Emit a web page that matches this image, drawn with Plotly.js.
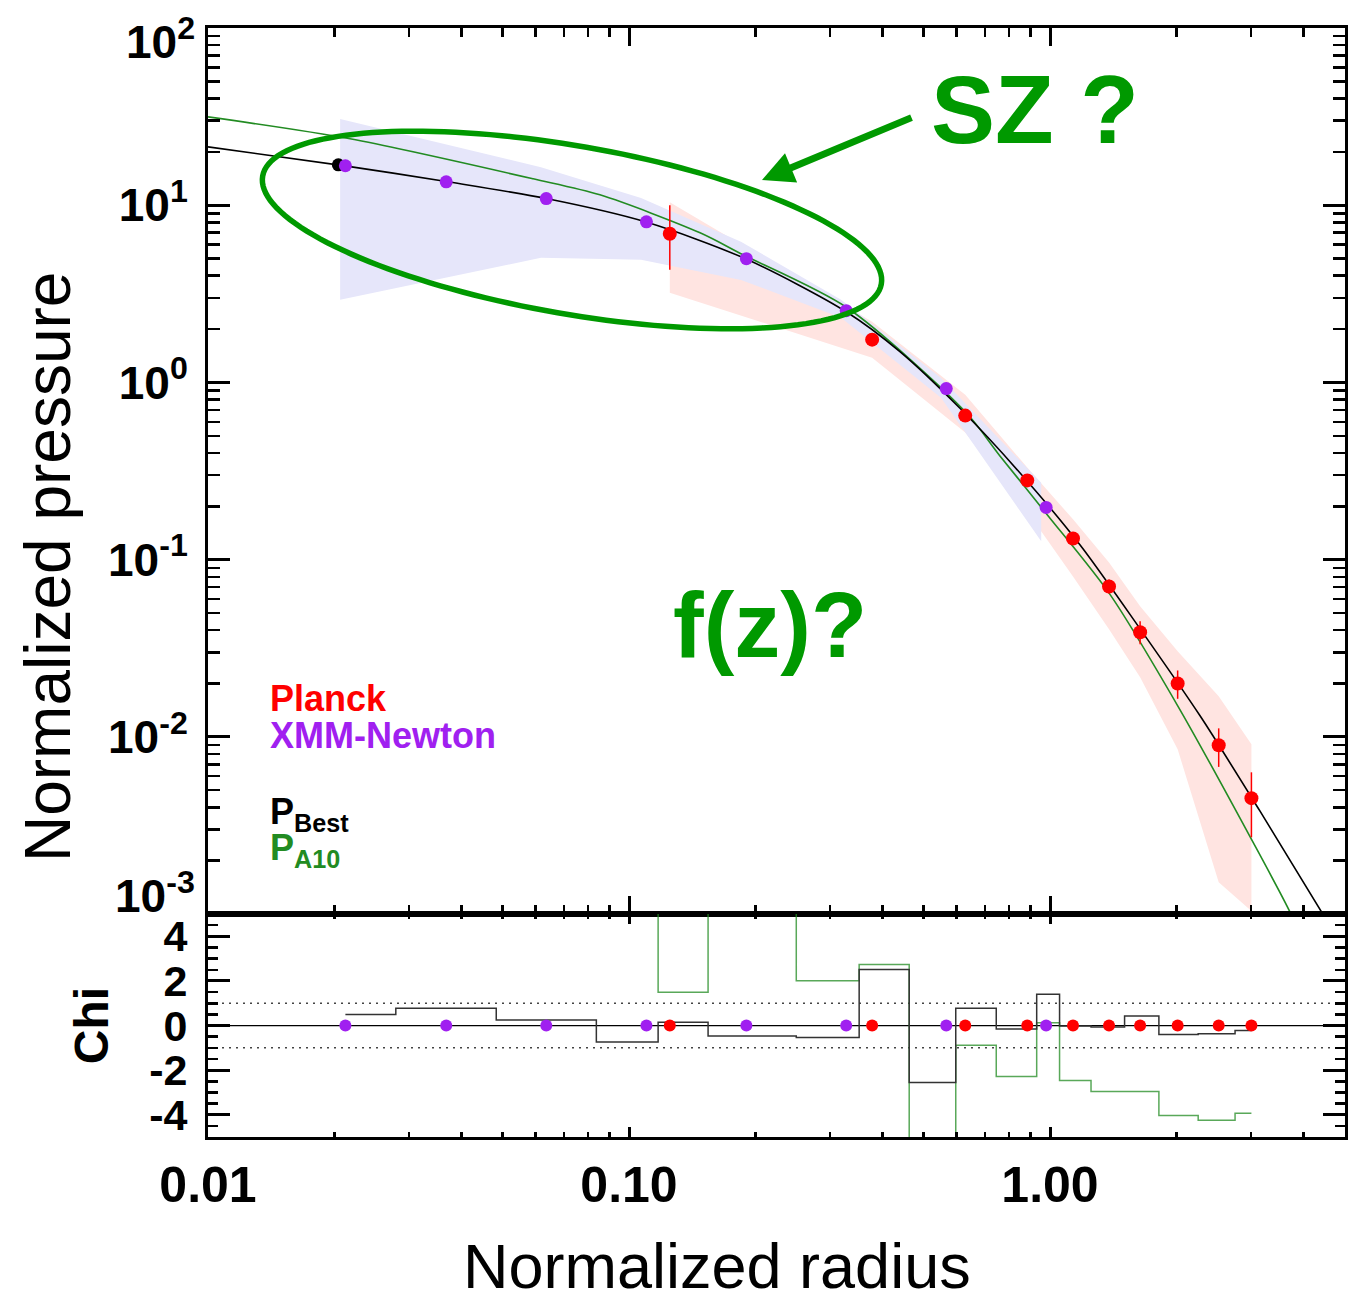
<!DOCTYPE html>
<html><head><meta charset="utf-8">
<script src="https://cdn.plot.ly/plotly-3.0.1.min.js"></script>
<style>html,body{margin:0;padding:0;background:#fff}</style>
</head><body><div id="chart" style="width:1367px;height:1296px"></div>
<script>
// ---------- DATA ----------
const xmmR = [0.0212, 0.0368, 0.0636, 0.110, 0.190, 0.328, 0.567, 0.979];
const xmmP = [16.7, 13.55, 10.9, 8.06, 4.99, 2.54, 0.923, 0.197];
const planckR = [0.125, 0.378, 0.629, 0.883, 1.134, 1.381, 1.637, 2.010, 2.516, 3.009];
const planckP = [6.90, 1.743, 0.650, 0.280, 0.1317, 0.0706, 0.0389, 0.0200, 0.00897, 0.00451];
const planckErrUp = [3.1, 0.08, 0.03, 0.012, 0.006, 0.0067, 0.0060, 0.0037, 0.0022, 0.0018];
const planckErrDn = [2.57, 0.08, 0.03, 0.012, 0.006, 0.0061, 0.0056, 0.0036, 0.0022, 0.0018];
const bestPointR = [0.0204];
const bestPointP = [16.9];

// uncertainty envelopes
const xmmBandR  = [0.0206, 0.0356, 0.0618, 0.1068, 0.1845, 0.319, 0.551, 0.953];
const xmmBandHi = [30.7, 22.5, 16.4, 11.0, 6.22, 2.93, 1.06, 0.272];
const xmmBandLo = [2.93, 3.85, 5.05, 4.92, 3.79, 2.32, 0.82, 0.127];
const planckBandHi = [10.4, 2.20, 0.853, 0.331, 0.169, 0.0964, 0.0545, 0.0304, 0.01694, 0.00908];
const planckBandLo = [3.21, 1.38, 0.521, 0.187, 0.0803, 0.0405, 0.0217, 0.00851, 0.00151, 0.00104];

// model profiles
const bestR = [0.01, 0.02115, 0.0368, 0.0636, 0.1098, 0.1898, 0.328, 0.440, 0.611, 0.849, 1.179, 1.637, 2.272, 3.154, 4.753];
const bestP = [21.34, 16.68, 13.60, 10.91, 8.04, 4.97, 2.506, 1.492, 0.7145, 0.3082, 0.1210, 0.04069, 0.01315, 0.003807, 0.000772];
const a10R = [0.01, 0.02175, 0.0592, 0.0853, 0.1475, 0.1866, 0.3296, 0.6318, 0.7605, 0.9837, 1.388, 2.014, 3.035, 3.716, 3.9];
const a10P = [31.5, 23.7, 14.09, 11.44, 6.99, 5.25, 2.64, 0.676, 0.385, 0.1798, 0.0637, 0.01488, 0.002547, 0.001026, 0.00078];

// residuals (sorted by radius, Planck + XMM merged)
const chiBest = [0.49, 0.78, 0.25, -0.74, 0.15, -0.47, -0.54, 2.51, -2.56, 0.78, -0.16, 1.40, -0.02, -0.06, 0.43, -0.40, -0.37, -0.22];
const chiA10  = [8, 8, 8, 8, 1.49, 8, 2.01, 2.74, -8, -0.88, -2.29, 0.13, -2.47, -2.96, -2.96, -4.04, -4.25, -3.93];

// axis labels
const yTickVals = [1e-3, 1e-2, 1e-1, 1, 10, 100];
const yTickText = ['', '10<sup>-2</sup>', '10<sup>-1</sup>', '10<sup>0</sup>', '10<sup>1</sup>', ''];
const yEdgeLabels = ['10<sup>2</sup>', '10<sup>-3</sup>'];
const xTickVals = [0.01, 0.1, 1];
const xTickText = ['0.01', '0.10', '1.00'];
const chiTickVals = [-4, -2, 0, 2, 4];
const chiTickText = ['-4', '-2', '0', '2', '4'];

// ---------- BUILD ----------
const allR = xmmR.concat(planckR).slice().sort((a, b) => a - b);
const FONT = 'Liberation Sans, Arial, Helvetica, sans-serif';
const RED = '#ff0000', PURPLE = '#a020f0', GREEN = '#228b22', BRIGHTGREEN = '#009900';

function minorLog(lo, hi) {
  const v = [];
  for (let e = lo; e < hi; e++) for (let d = 2; d <= 9; d++) v.push(d * Math.pow(10, e));
  return v;
}
const xMinor = minorLog(-2, 1).filter(v => v <= 5);
const yMinor = minorLog(-3, 2);

const traces = [
  { x: planckR.concat(planckR.slice().reverse()), y: planckBandHi.concat(planckBandLo.slice().reverse()),
    fill: 'toself', fillcolor: '#ffe4e1', mode: 'lines', line: { width: 0 }, hoverinfo: 'skip', xaxis: 'x', yaxis: 'y' },
  { x: xmmBandR.concat(xmmBandR.slice().reverse()), y: xmmBandHi.concat(xmmBandLo.slice().reverse()),
    fill: 'toself', fillcolor: '#e6e6fa', mode: 'lines', line: { width: 0 }, hoverinfo: 'skip', xaxis: 'x', yaxis: 'y' },
  { x: a10R, y: a10P, mode: 'lines', line: { color: GREEN, width: 1.6, shape: 'spline', smoothing: 0.8 }, xaxis: 'x', yaxis: 'y' },
  { x: bestR, y: bestP, mode: 'lines', line: { color: '#000', width: 1.6, shape: 'spline', smoothing: 0.8 }, xaxis: 'x', yaxis: 'y' },
  { x: bestPointR, y: bestPointP, mode: 'markers', marker: { color: '#000', size: 13 }, xaxis: 'x', yaxis: 'y' },
  { x: xmmR, y: xmmP, mode: 'markers', marker: { color: PURPLE, size: 13 }, xaxis: 'x', yaxis: 'y' },
  { x: planckR, y: planckP, mode: 'markers', marker: { color: RED, size: 14 },
    error_y: { type: 'data', array: planckErrUp, arrayminus: planckErrDn, color: RED, thickness: 1.5, width: 0 },
    xaxis: 'x', yaxis: 'y' },
  { x: allR, y: chiA10, mode: 'lines', line: { color: 'rgba(34,139,34,0.75)', width: 1.5, shape: 'hvh' }, xaxis: 'x2', yaxis: 'y2' },
  { x: allR, y: chiBest, mode: 'lines', line: { color: '#333', width: 1.5, shape: 'hvh' }, xaxis: 'x2', yaxis: 'y2' },
  { x: xmmR, y: xmmR.map(() => 0), mode: 'markers', marker: { color: PURPLE, size: 12 }, xaxis: 'x2', yaxis: 'y2' },
  { x: planckR, y: planckR.map(() => 0), mode: 'markers', marker: { color: RED, size: 12 }, xaxis: 'x2', yaxis: 'y2' }
];

// geometry helpers for annotations
const W = 1367, H = 1296, ML = 208, MR = 22, MT = 28, MB = 159;
const PW = W - ML - MR, PH = H - MT - MB;
const px2x = px => (px - ML) / PW;
const py2y = py => (H - MB - py) / PH;
const ell = { cx: 572, cy: 230, a: 314, b: 84, rot: 9.9 };
let ellPath = '';
for (let i = 0; i <= 160; i++) {
  const t = 2 * Math.PI * i / 160, th = ell.rot * Math.PI / 180;
  const X = ell.cx + ell.a * Math.cos(th) * Math.cos(t) - ell.b * Math.sin(th) * Math.sin(t);
  const Y = ell.cy + ell.a * Math.sin(th) * Math.cos(t) + ell.b * Math.cos(th) * Math.sin(t);
  ellPath += (i ? 'L' : 'M') + px2x(X).toFixed(5) + ',' + py2y(Y).toFixed(5);
}
ellPath += 'Z';

const axisCommon = { showline: true, linewidth: 3, linecolor: '#000', mirror: 'ticks', ticks: 'inside',
  tickcolor: '#000', showgrid: false, zeroline: false };
const tickFont = { family: FONT, size: 46, color: '#000', weight: 'bold' };
const chiTickFont = { family: FONT, size: 43, color: '#000', weight: 'bold' };
const xTickFont = { family: FONT, size: 50, color: '#000', weight: 'bold' };

const layout = {
  width: W, height: H, margin: { l: ML, r: MR, t: MT, b: MB }, showlegend: false,
  paper_bgcolor: '#fff', plot_bgcolor: '#fff', font: { family: FONT },
  xaxis: Object.assign({}, axisCommon, { type: 'log', range: [-2, 0.7007], anchor: 'y', showticklabels: false,
    tickmode: 'array', tickvals: xTickVals, ticklen: 18, tickwidth: 3,
    minor: { tickmode: 'array', tickvals: xMinor, ticks: 'inside', ticklen: 9, tickwidth: 2.5, tickcolor: '#000' } }),
  yaxis: Object.assign({}, axisCommon, { type: 'log', range: [-3, 2], domain: [0.201, 1], anchor: 'x',
    tickmode: 'array', tickvals: yTickVals, ticktext: yTickText, ticklen: 22, tickwidth: 3, tickfont: tickFont,
    ticklabelstandoff: 8,
    minor: { tickmode: 'array', tickvals: yMinor, ticks: 'inside', ticklen: 12, tickwidth: 2.5, tickcolor: '#000' } }),
  xaxis2: Object.assign({}, axisCommon, { type: 'log', range: [-2, 0.7007], anchor: 'y2', matches: 'x',
    tickmode: 'array', tickvals: xTickVals, ticktext: xTickText, ticklen: 10, tickwidth: 3, tickfont: xTickFont,
    ticklabelstandoff: 2,
    minor: { tickmode: 'array', tickvals: xMinor, ticks: 'inside', ticklen: 5, tickwidth: 2.5, tickcolor: '#000' } }),
  yaxis2: Object.assign({}, axisCommon, { range: [-5, 5], domain: [0, 0.201], anchor: 'x2',
    tickmode: 'array', tickvals: chiTickVals, ticktext: chiTickText, ticklen: 22, tickwidth: 3, tickfont: chiTickFont,
    ticklabelstandoff: 9,
    minor: { dtick: 0.5, ticks: 'inside', ticklen: 10, tickwidth: 2.5, tickcolor: '#000' },
    title: { text: '<b>Chi</b>', font: { family: FONT, size: 48, color: '#000' }, standoff: 26 } }),
  shapes: [
    { type: 'line', xref: 'paper', x0: 0, x1: 1, yref: 'y2', y0: 0, y1: 0, line: { color: '#000', width: 1.3 }, layer: 'below' },
    { type: 'line', xref: 'paper', x0: 0, x1: 1, yref: 'y2', y0: 1, y1: 1, line: { color: '#444', width: 1.5, dash: '2px,5px' }, layer: 'below' },
    { type: 'line', xref: 'paper', x0: 0, x1: 1, yref: 'y2', y0: -1, y1: -1, line: { color: '#444', width: 1.5, dash: '2px,5px' }, layer: 'below' },
    { type: 'path', xref: 'paper', yref: 'paper', path: ellPath, line: { color: BRIGHTGREEN, width: 5.5 } }
  ],
  annotations: [
    // axis titles
    { xref: 'paper', yref: 'paper', x: px2x(48), y: py2y(567), xanchor: 'center', yanchor: 'middle', showarrow: false,
      textangle: -90, text: 'Normalized pressure', font: { family: FONT, size: 64, color: '#000' } },
    { xref: 'paper', yref: 'paper', x: px2x(717), y: py2y(1266), xanchor: 'center', yanchor: 'middle', showarrow: false,
      text: 'Normalized radius', font: { family: FONT, size: 63, color: '#000' } },
    // edge tick labels of the pressure axis
    { xref: 'paper', yref: 'paper', x: px2x(197), y: py2y(70), xanchor: 'right', yanchor: 'bottom', showarrow: false,
      text: '<b>' + yEdgeLabels[0] + '</b>', font: tickFont },
    { xref: 'paper', yref: 'paper', x: px2x(197), y: py2y(924), xanchor: 'right', yanchor: 'bottom', showarrow: false,
      text: '<b>' + yEdgeLabels[1] + '</b>', font: tickFont },
    // arrow + notes
    { xref: 'paper', yref: 'paper', x: px2x(762), y: py2y(180), text: '', showarrow: true, ax: 151, ay: -63,
      arrowcolor: BRIGHTGREEN, arrowwidth: 7, arrowhead: 2, arrowsize: 0.9, standoff: 0 },
    { xref: 'paper', yref: 'paper', x: px2x(1035), y: py2y(110), xanchor: 'center', yanchor: 'middle', showarrow: false,
      text: '<b>SZ ?</b>', font: { family: FONT, size: 96, color: BRIGHTGREEN } },
    { xref: 'paper', yref: 'paper', x: px2x(770), y: py2y(625), xanchor: 'center', yanchor: 'middle', showarrow: false,
      text: '<b>f(z)?</b>', font: { family: FONT, size: 92, color: BRIGHTGREEN } },
    // legend texts
    { xref: 'paper', yref: 'paper', x: px2x(268), y: py2y(676), xanchor: 'left', yanchor: 'top', showarrow: false,
      text: '<b>Planck</b>', font: { family: FONT, size: 36, color: RED } },
    { xref: 'paper', yref: 'paper', x: px2x(268), y: py2y(713), xanchor: 'left', yanchor: 'top', showarrow: false,
      text: '<b>XMM-Newton</b>', font: { family: FONT, size: 36, color: PURPLE } },
    { xref: 'paper', yref: 'paper', x: px2x(268), y: py2y(789), xanchor: 'left', yanchor: 'top', showarrow: false,
      text: '<b>P<sub>Best</sub></b>', font: { family: FONT, size: 36, color: '#000' } },
    { xref: 'paper', yref: 'paper', x: px2x(268), y: py2y(825), xanchor: 'left', yanchor: 'top', showarrow: false,
      text: '<b>P<sub>A10</sub></b>', font: { family: FONT, size: 36, color: GREEN } }
  ]
};

Plotly.newPlot('chart', traces, layout, { staticPlot: true, displayModeBar: false });
</script></body></html>
